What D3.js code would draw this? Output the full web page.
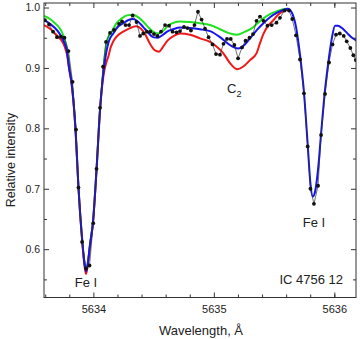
<!DOCTYPE html>
<html>
<head>
<meta charset="utf-8">
<script src="https://cdn.jsdelivr.net/npm/d3@7"></script>
<style>
  body { margin: 0; background: #fff; }
  svg { display: block; font-family: Arial, "Liberation Sans", sans-serif; }
</style>
</head>
<body>
<div id="chartDiv"></div>
<script>
// observed spectrum
const obsWave = [5633.598, 5633.632, 5633.665, 5633.698, 5633.731, 5633.760, 5633.793, 5633.827, 5633.856, 5633.876,
  5633.906, 5633.939, 5633.968, 5633.999, 5634.026, 5634.055, 5634.080, 5634.105, 5634.138, 5634.171,
  5634.213, 5634.238, 5634.267, 5634.296, 5634.326, 5634.358, 5634.387, 5634.414, 5634.445, 5634.474,
  5634.503, 5634.532, 5634.561, 5634.595, 5634.628, 5634.657, 5634.690, 5634.719, 5634.752, 5634.781,
  5634.810, 5634.839, 5634.868, 5634.898, 5634.927, 5634.956, 5634.989, 5635.018, 5635.051, 5635.080,
  5635.109, 5635.140, 5635.170, 5635.201, 5635.234, 5635.263, 5635.296, 5635.325, 5635.354, 5635.383,
  5635.412, 5635.445, 5635.480, 5635.520, 5635.549, 5635.587, 5635.624, 5635.651, 5635.682, 5635.715,
  5635.748, 5635.779, 5635.802, 5635.831, 5635.865, 5635.890, 5635.923, 5635.956, 5635.985, 5636.014,
  5636.045, 5636.078, 5636.103, 5636.133, 5636.158, 5636.178];
const obsInt = [0.979, 0.972, 0.960, 0.951, 0.952, 0.950, 0.928, 0.877, 0.798, 0.702,
  0.612, 0.568, 0.573, 0.643, 0.733, 0.834, 0.902, 0.943, 0.958, 0.963,
  0.973, 0.977, 0.971, 0.971, 0.987, 0.976, 0.953, 0.957, 0.960, 0.960,
  0.956, 0.953, 0.960, 0.971, 0.970, 0.960, 0.959, 0.961, 0.968, 0.966,
  0.962, 0.971, 0.993, 0.980, 0.965, 0.951, 0.939, 0.923, 0.922, 0.940,
  0.948, 0.948, 0.938, 0.916, 0.934, 0.945, 0.950, 0.956, 0.978, 0.985,
  0.978, 0.970, 0.971, 0.975, 0.983, 0.995, 0.995, 0.981, 0.954, 0.914,
  0.858, 0.770, 0.700, 0.675, 0.705, 0.789, 0.857, 0.909, 0.939, 0.955,
  0.957, 0.953, 0.944, 0.933, 0.921, 0.913];

// synthetic spectra
const blueWave = [5633.590, 5633.640, 5633.681, 5633.715, 5633.739, 5633.760, 5633.778, 5633.798, 5633.820, 5633.853,
  5633.875, 5633.908, 5633.926, 5633.939, 5633.951, 5633.972, 5633.997, 5634.026, 5634.055, 5634.076,
  5634.088, 5634.111, 5634.130, 5634.165, 5634.204, 5634.248, 5634.287, 5634.329, 5634.370, 5634.412,
  5634.453, 5634.495, 5634.536, 5634.578, 5634.619, 5634.661, 5634.719, 5634.802, 5634.885, 5634.968,
  5635.051, 5635.118, 5635.167, 5635.203, 5635.242, 5635.300, 5635.358, 5635.411, 5635.466, 5635.522,
  5635.574, 5635.616, 5635.649, 5635.682, 5635.715, 5635.748, 5635.779, 5635.802, 5635.821, 5635.840,
  5635.865, 5635.890, 5635.923, 5635.956, 5635.981, 5636.006, 5636.031, 5636.064, 5636.105, 5636.147,
  5636.188];
const blueInt = [0.979, 0.973, 0.966, 0.958, 0.950, 0.941, 0.930, 0.900, 0.874, 0.794,
  0.707, 0.613, 0.576, 0.563, 0.573, 0.608, 0.646, 0.732, 0.831, 0.880,
  0.900, 0.930, 0.945, 0.957, 0.968, 0.974, 0.979, 0.981, 0.977, 0.968,
  0.959, 0.951, 0.950, 0.955, 0.961, 0.964, 0.967, 0.966, 0.964, 0.961,
  0.951, 0.940, 0.934, 0.932, 0.936, 0.949, 0.963, 0.974, 0.984, 0.991,
  0.996, 0.998, 0.991, 0.968, 0.922, 0.860, 0.773, 0.708, 0.687, 0.695,
  0.732, 0.791, 0.864, 0.918, 0.951, 0.970, 0.970, 0.966, 0.958, 0.950,
  0.945];

const greenWave = [5633.590, 5633.640, 5633.681, 5633.715, 5633.737, 5633.756, 5633.778, 5633.793, 5633.806, 5633.820,
  5633.853, 5633.875, 5633.908, 5633.926, 5633.939, 5633.951, 5633.972, 5633.997, 5634.026, 5634.055,
  5634.076, 5634.088, 5634.101, 5634.121, 5634.152, 5634.188, 5634.235, 5634.279, 5634.329, 5634.370,
  5634.412, 5634.453, 5634.495, 5634.536, 5634.578, 5634.619, 5634.669, 5634.719, 5634.802, 5634.885,
  5634.968, 5635.051, 5635.118, 5635.190, 5635.259, 5635.317, 5635.358, 5635.411, 5635.466, 5635.524,
  5635.574, 5635.616];
const greenInt = [0.986, 0.981, 0.974, 0.967, 0.960, 0.950, 0.935, 0.917, 0.893, 0.874,
  0.794, 0.707, 0.613, 0.576, 0.564, 0.573, 0.608, 0.646, 0.732, 0.831,
  0.880, 0.907, 0.933, 0.950, 0.960, 0.973, 0.982, 0.987, 0.988, 0.984,
  0.977, 0.968, 0.960, 0.957, 0.961, 0.970, 0.975, 0.977, 0.976, 0.974,
  0.971, 0.964, 0.958, 0.955, 0.960, 0.966, 0.973, 0.982, 0.989, 0.994,
  0.997, 0.998];

const redWave = [5633.590, 5633.640, 5633.681, 5633.715, 5633.737, 5633.760, 5633.781, 5633.800, 5633.820, 5633.853,
  5633.875, 5633.908, 5633.926, 5633.939, 5633.951, 5633.972, 5633.997, 5634.026, 5634.055, 5634.076,
  5634.092, 5634.109, 5634.124, 5634.142, 5634.165, 5634.204, 5634.248, 5634.304, 5634.354, 5634.395,
  5634.429, 5634.470, 5634.512, 5634.545, 5634.578, 5634.619, 5634.669, 5634.719, 5634.802, 5634.885,
  5634.968, 5635.024, 5635.076, 5635.134, 5635.192, 5635.242, 5635.300, 5635.356, 5635.383, 5635.411,
  5635.450, 5635.494, 5635.533, 5635.577, 5635.616];
const redInt = [0.971, 0.965, 0.957, 0.950, 0.945, 0.936, 0.922, 0.897, 0.872, 0.792,
  0.705, 0.611, 0.573, 0.559, 0.570, 0.606, 0.644, 0.730, 0.829, 0.876,
  0.897, 0.910, 0.919, 0.933, 0.944, 0.954, 0.960, 0.966, 0.969, 0.965,
  0.956, 0.940, 0.929, 0.927, 0.935, 0.946, 0.953, 0.957, 0.955, 0.949,
  0.943, 0.935, 0.925, 0.908, 0.898, 0.902, 0.913, 0.925, 0.941, 0.956,
  0.970, 0.979, 0.988, 0.994, 0.997];

const xMajor = [5634, 5635, 5636];
const xMinor = [5633.6, 5633.8, 5634.2, 5634.4, 5634.6, 5634.8, 5635.2, 5635.4, 5635.6, 5635.8, 5636.0];
const yMajor = [0.6, 0.7, 0.8, 0.9, 1.0];
const yMinor = [0.55, 0.65, 0.75, 0.85, 0.95];

const canvasW = 360, canvasH = 339;
const margin = {top: 3, right: 4, bottom: 41.5, left: 44};
const graphWidth = canvasW - margin.left - margin.right;
const graphHeight = canvasH - margin.top - margin.bottom;

const svg = d3.select('#chartDiv')
  .append('svg')
  .attr('width', canvasW)
  .attr('height', canvasH);

const graph = svg.append('g')
  .attr('transform', `translate(${margin.left},${margin.top})`);

const x = d3.scaleLinear().domain([5633.59, 5636.18]).range([0, graphWidth]);
const y = d3.scaleLinear().domain([0.52, 1.0075]).range([graphHeight, 0]);

svg.append('defs').append('clipPath').attr('id', 'plotClip')
  .append('rect').attr('width', graphWidth).attr('height', graphHeight);

const plot = graph.append('g').attr('clip-path', 'url(#plotClip)');

const toPts = (w, v) => w.map((d, i) => [d, v[i]]);
const smooth = d3.line().x(d => x(d[0])).y(d => y(d[1])).curve(d3.curveMonotoneX);
const straight = d3.line().x(d => x(d[0])).y(d => y(d[1]));

const models = [
  {w: greenWave, v: greenInt, c: '#1de21d'},
  {w: redWave, v: redInt, c: '#f01818'},
  {w: blueWave, v: blueInt, c: '#1414ee'}
];
models.forEach(m => {
  plot.append('path')
    .attr('d', smooth(toPts(m.w, m.v)))
    .attr('fill', 'none')
    .attr('stroke', m.c)
    .attr('stroke-width', 2);
});

const obs = toPts(obsWave, obsInt);
plot.append('path')
  .attr('d', straight(obs))
  .attr('fill', 'none')
  .attr('stroke', '#333')
  .attr('stroke-width', 0.7);
plot.selectAll('circle')
  .data(obs)
  .enter()
  .append('circle')
  .attr('cx', d => x(d[0]))
  .attr('cy', d => y(d[1]))
  .attr('r', 1.9)
  .attr('fill', '#111');

// axes, ticks pointing inward
function addAxis(axis, tr, vals, size, fmt) {
  const g = graph.append('g').attr('transform', tr)
    .call(axis.tickValues(vals).tickSizeInner(size).tickSizeOuter(0).tickFormat(fmt));
  g.select('.domain').remove();
  g.selectAll('line').attr('stroke', '#333');
  return g;
}
const noLabel = () => '';
const xb = addAxis(d3.axisBottom(x).tickPadding(8), `translate(0,${graphHeight})`, xMajor, -5, d3.format('d'));
addAxis(d3.axisBottom(x), `translate(0,${graphHeight})`, xMinor, -3, noLabel);
addAxis(d3.axisTop(x), 'translate(0,0)', xMajor, -5, noLabel);
addAxis(d3.axisTop(x), 'translate(0,0)', xMinor, -3, noLabel);
const yl = addAxis(d3.axisLeft(y).tickPadding(4), 'translate(0,0)', yMajor, -5, d3.format('.1f'));
addAxis(d3.axisLeft(y), 'translate(0,0)', yMinor, -3, noLabel);
addAxis(d3.axisRight(y), `translate(${graphWidth},0)`, yMajor, -5, noLabel);
addAxis(d3.axisRight(y), `translate(${graphWidth},0)`, yMinor, -3, noLabel);

xb.selectAll('text').attr('font-size', 11).attr('fill', '#222').attr('font-family', 'Arial, "Liberation Sans", sans-serif');
yl.selectAll('text').attr('font-size', 10.5).attr('fill', '#222').attr('font-family', 'Arial, "Liberation Sans", sans-serif');

graph.append('rect')
  .attr('width', graphWidth)
  .attr('height', graphHeight)
  .attr('fill', 'none')
  .attr('stroke', '#333')
  .attr('stroke-width', 1);

// titles
svg.append('text')
  .attr('x', 201).attr('y', 335)
  .attr('text-anchor', 'middle')
  .attr('font-size', 13)
  .attr('fill', '#222')
  .text('Wavelength, Å');
svg.append('text')
  .attr('transform', 'translate(15,160) rotate(-90)')
  .attr('text-anchor', 'middle')
  .attr('font-size', 12.5)
  .attr('fill', '#222')
  .text('Relative intensity');

// annotations
const note = (tx, ty, s, anchor) => svg.append('text')
  .attr('x', tx).attr('y', ty)
  .attr('text-anchor', anchor || 'middle')
  .attr('font-size', 13)
  .attr('fill', '#222')
  .text(s);
note(86, 287, 'Fe I');
note(314, 226.5, 'Fe I');
note(343, 283.5, 'IC 4756 12', 'end');
const c2 = note(227, 92.5, 'C', 'start');
c2.append('tspan').attr('font-size', 9).attr('dy', 4).text('2');
</script>
</body>
</html>
